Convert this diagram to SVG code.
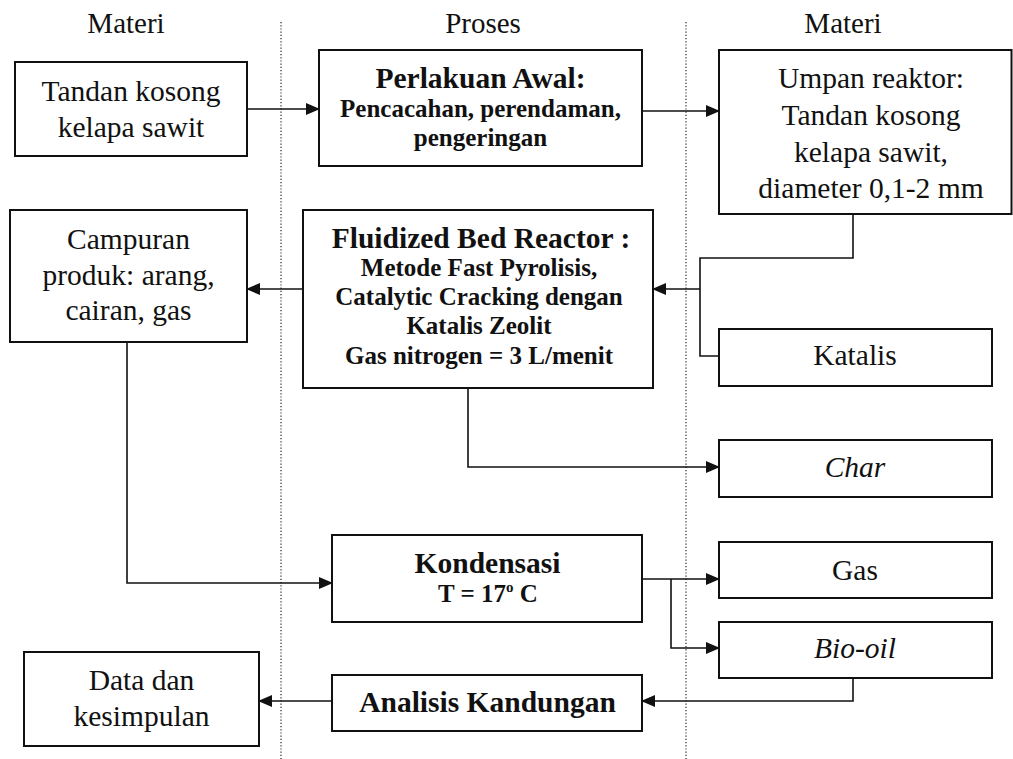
<svg xmlns="http://www.w3.org/2000/svg" width="1013" height="759" viewBox="0 0 1013 759">
<style>
text{font-family:"Liberation Serif","Times New Roman",serif;fill:#111;text-anchor:middle}
.h{font-size:29px}
.t{font-size:29.5px}
.b{font-size:29.5px;font-weight:bold}
.s{font-size:25px;font-weight:bold}
.i{font-style:italic}
.box{fill:none;stroke:#111;stroke-width:2}
.ln{fill:none;stroke:#111;stroke-width:1.6}
.dot{fill:none;stroke:#222;stroke-width:1.2;stroke-dasharray:1.2 2}
</style>
<defs>
<marker id="ah" markerWidth="14" markerHeight="12" refX="13" refY="6" orient="auto" markerUnits="userSpaceOnUse">
<path d="M0,0 L14,6 L0,12 Z" fill="#111"/>
</marker>
</defs>
<rect width="1013" height="759" fill="#fff"/>
<g id="lanes">
<line class="dot" x1="281" y1="22" x2="281" y2="759"/>
<line class="dot" x1="686" y1="22" x2="686" y2="759"/>
<text class="h" x="126" y="33">Materi</text>
<text class="h" x="483" y="33">Proses</text>
<text class="h" x="843" y="33">Materi</text>
</g>
<g id="connectors">
<line class="ln" x1="247" y1="109" x2="319" y2="109" marker-end="url(#ah)"/>
<line class="ln" x1="642" y1="111" x2="719" y2="111" marker-end="url(#ah)"/>
<path class="ln" d="M853,214 V258 H700 V356 H719"/>
<line class="ln" x1="700" y1="289" x2="653" y2="289" marker-end="url(#ah)"/>
<line class="ln" x1="303" y1="289" x2="247" y2="289" marker-end="url(#ah)"/>
<path class="ln" d="M468,388 V467 H719" marker-end="url(#ah)"/>
<path class="ln" d="M127,342 V583 H332" marker-end="url(#ah)"/>
<line class="ln" x1="642" y1="579" x2="719" y2="579" marker-end="url(#ah)"/>
<path class="ln" d="M671,579 V648 H719" marker-end="url(#ah)"/>
<path class="ln" d="M853,678 V701 H642" marker-end="url(#ah)"/>
<line class="ln" x1="332" y1="701" x2="259" y2="701" marker-end="url(#ah)"/>
</g>
<g id="tandan">
<rect class="box" x="15" y="62" width="232" height="94"/>
<text class="t" x="131" y="101">Tandan kosong</text>
<text class="t" x="131" y="137">kelapa sawit</text>
</g>
<g id="perlakuan">
<rect class="box" x="319" y="50" width="323" height="116"/>
<text class="b" x="480.5" y="88">Perlakuan Awal:</text>
<text class="s" x="480.5" y="117">Pencacahan, perendaman,</text>
<text class="s" x="480.5" y="146">pengeringan</text>
</g>
<g id="umpan">
<rect class="box" x="719" y="50" width="292.5" height="164"/>
<text class="t" x="871" y="88">Umpan reaktor:</text>
<text class="t" x="871" y="125">Tandan kosong</text>
<text class="t" x="871" y="162">kelapa sawit,</text>
<text class="t" x="871" y="198">diameter 0,1-2 mm</text>
</g>
<g id="campuran">
<rect class="box" x="10" y="210" width="237" height="132"/>
<text class="t" x="128.5" y="249">Campuran</text>
<text class="t" x="128.5" y="285">produk: arang,</text>
<text class="t" x="128.5" y="320">cairan, gas</text>
</g>
<g id="fbr">
<rect class="box" x="303" y="210" width="350" height="178"/>
<text class="b" x="481" y="248">Fluidized Bed Reactor :</text>
<text class="s" x="479" y="276">Metode Fast Pyrolisis,</text>
<text class="s" x="479" y="305">Catalytic Cracking dengan</text>
<text class="s" x="479" y="334">Katalis Zeolit</text>
<text class="s" x="479" y="364">Gas nitrogen = 3 L/menit</text>
</g>
<g id="katalis">
<rect class="box" x="719" y="329" width="273" height="57"/>
<text class="t" x="855" y="365">Katalis</text>
</g>
<g id="char">
<rect class="box" x="719" y="440" width="273" height="57"/>
<text class="t i" x="855" y="477">Char</text>
</g>
<g id="kondensasi">
<rect class="box" x="332" y="535" width="310" height="87"/>
<text class="b" x="487.5" y="573">Kondensasi</text>
<text class="s" x="488" y="602">T = 17<tspan font-size="15" dy="-10">o</tspan><tspan dy="10"> C</tspan></text>
</g>
<g id="gas">
<rect class="box" x="719" y="542" width="273" height="56"/>
<text class="t" x="855" y="580">Gas</text>
</g>
<g id="biooil">
<rect class="box" x="719" y="622" width="273" height="56"/>
<text class="t i" x="855" y="658">Bio-oil</text>
</g>
<g id="analisis">
<rect class="box" x="332" y="675" width="310" height="56"/>
<text class="b" x="487.5" y="712">Analisis Kandungan</text>
</g>
<g id="data">
<rect class="box" x="24" y="652" width="235" height="94"/>
<text class="t" x="141.5" y="690">Data dan</text>
<text class="t" x="141.5" y="726">kesimpulan</text>
</g>
</svg>
